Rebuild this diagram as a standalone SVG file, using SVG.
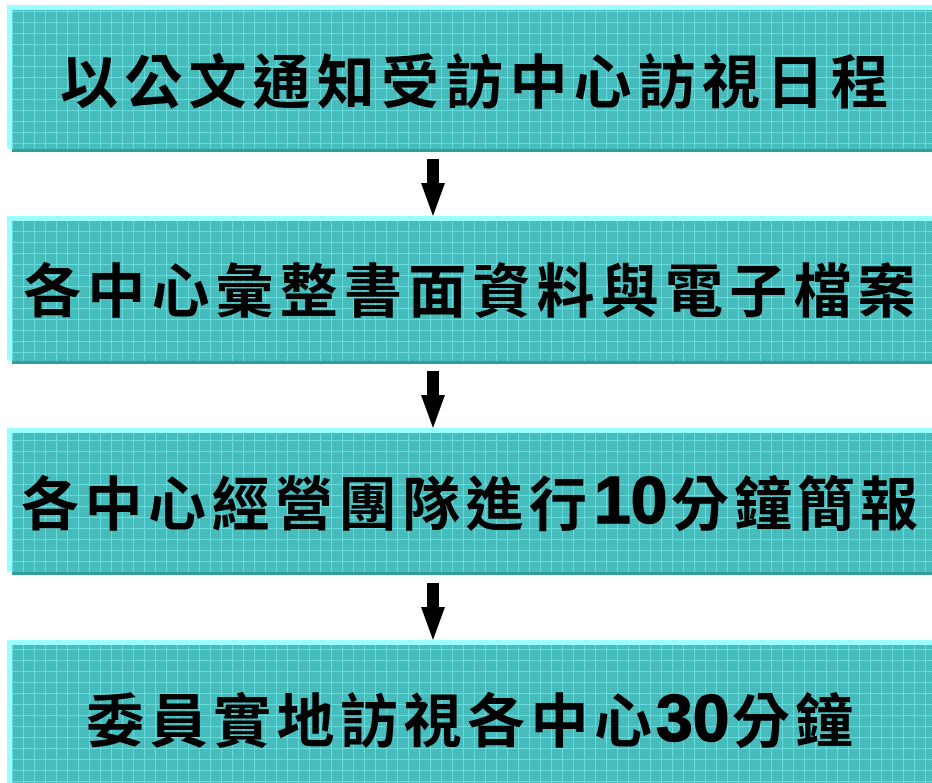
<svg xmlns="http://www.w3.org/2000/svg" width="932" height="783" viewBox="0 0 932 783">
<style>
.t{font-family:"Noto Sans CJK TC","Noto Sans CJK SC",sans-serif;font-weight:700;font-size:58px;fill:#000}
.d{font-family:"Liberation Sans",Arial,sans-serif;font-weight:700;font-size:66px;stroke:#000;stroke-width:1.5px}
.hi{fill:#99ffff}
.sh{fill:#339c9c}
.face{fill:url(#tex)}
.arr{fill:#000}
</style>
<defs>
<pattern id="dith" x="0" y="0" width="2" height="2" patternUnits="userSpaceOnUse">
<rect width="2" height="2" fill="#4cc4c4"/>
<rect width="1" height="1" fill="#3eb0b0"/>
<rect x="1" y="1" width="1" height="1" fill="#44b8b8"/>
</pattern>
<pattern id="tex" x="1" y="0" width="11" height="11" patternUnits="userSpaceOnUse">
<rect width="11" height="11" fill="url(#dith)"/>
<rect x="0" y="0" width="1" height="11" fill="#68dcdc"/>
<rect x="0" y="0" width="11" height="1" fill="#68dcdc"/>
</pattern>
</defs>
<rect width="932" height="783" fill="#ffffff"/>

<g id="node1">
<rect class="hi" x="7" y="5" width="925" height="144"/>
<rect class="face" x="12" y="10" width="920" height="139"/>
<rect class="sh" x="12" y="149" width="920" height="3"/>
<text class="t" y="103"><tspan x="60 124.2 188.4 252.6 316.8 381 445.2 509.4 573.6 637.8 702 766.2 830.4">以公文通知受訪中心訪視日程</tspan></text>
</g>

<g id="node2">
<rect class="hi" x="7" y="216" width="925" height="145"/>
<rect class="face" x="12" y="221" width="920" height="140"/>
<rect class="sh" x="12" y="361" width="920" height="3"/>
<text class="t" y="312"><tspan x="23 87.2 151.4 215.6 279.8 344 408.2 472.4 536.6 600.8 665 729.2 793.4 857.6">各中心彙整書面資料與電子檔案</tspan></text>
</g>

<g id="node3">
<rect class="hi" x="7" y="428" width="925" height="144"/>
<rect class="face" x="12" y="433" width="920" height="139"/>
<rect class="sh" x="12" y="572" width="920" height="3"/>
<text class="t" y="525"><tspan x="21 84.5 148 211.5 275 338.5 402 465.5 529">各中心經營團隊進行</tspan><tspan class="d" x="594" y="523">10</tspan><tspan x="671 734 797 860" y="525">分鐘簡報</tspan></text>
</g>

<g id="node4">
<rect class="hi" x="7" y="640" width="925" height="143"/>
<rect class="face" x="12" y="645" width="920" height="138"/>
<text class="t" y="742"><tspan x="86 149.5 213 276.5 340 403.5 467 530.5 594">委員實地訪視各中心</tspan><tspan class="d" x="656" y="741">30</tspan><tspan x="732 795" y="742">分鐘</tspan></text>
</g>

<g id="connectors">
<polygon class="arr" points="427,159 439,159 439,183 445,183 433,216 421,183 427,183"/>
<polygon class="arr" points="427,371 439,371 439,395 445,395 433,428 421,395 427,395"/>
<polygon class="arr" points="427,583 439,583 439,607 445,607 433,640 421,607 427,607"/>
</g>
</svg>
